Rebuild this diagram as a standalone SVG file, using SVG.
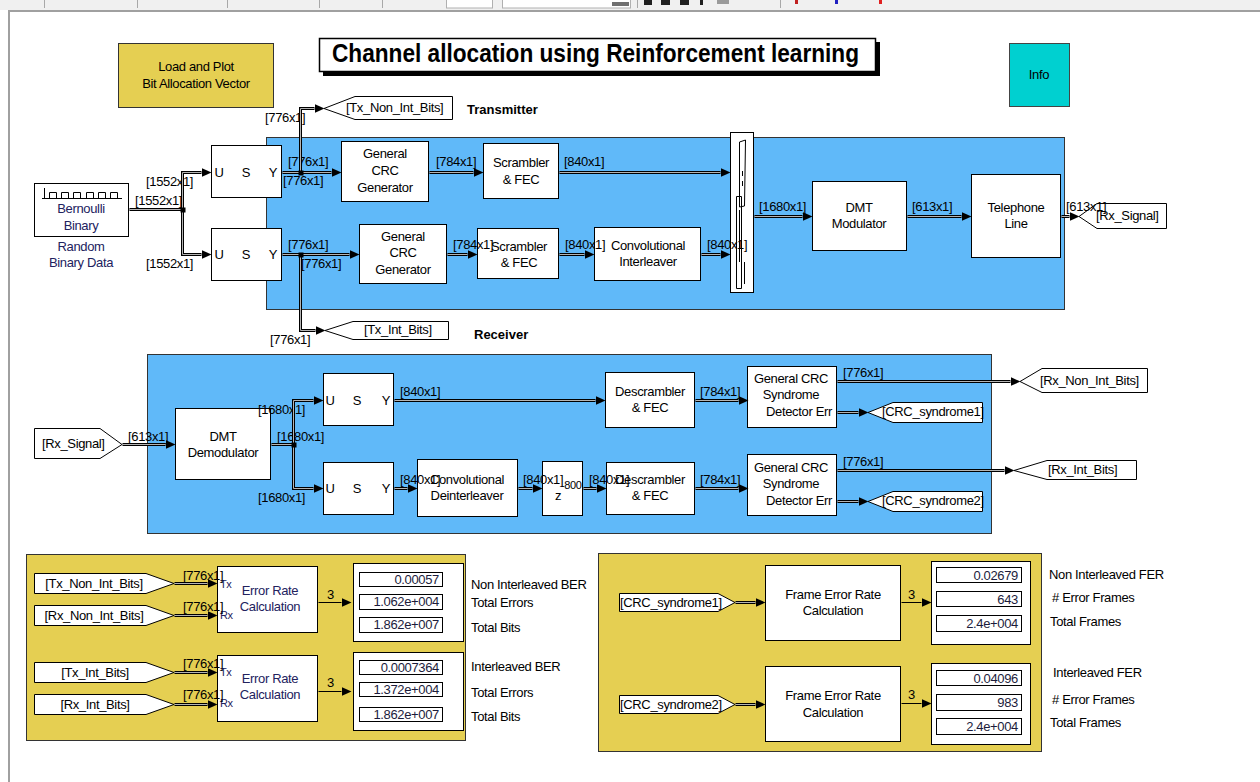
<svg xmlns="http://www.w3.org/2000/svg" xmlns:xlink="http://www.w3.org/1999/xlink" width="1260" height="782" viewBox="0 0 1260 782">
<style>
  text { font-family: "Liberation Sans", Arial, sans-serif; font-size: 13px; letter-spacing: -0.35px; fill: #000; }
  .c { text-anchor: middle; }
  .r { text-anchor: end; }
  .nv { fill: #22225e; }
  .dk { fill: #1c1c3c; }
  .b { font-weight: bold; letter-spacing: 0; }
  .sm { font-size: 11px; }
  .blk { fill: #fff; stroke: #000; stroke-width: 1; }
  .fld { fill: #fff; stroke: #000; stroke-width: 1; }
  .tag { fill: #fff; stroke: #000; stroke-width: 1; }
  .w { fill: none; stroke: #000; stroke-width: 3; marker-end: url(#ah); }
  .wc { fill: none; stroke: #b4b4b4; stroke-width: 1; marker-end: none; }
  .s { fill: none; stroke: #000; stroke-width: 1; marker-end: url(#ah); }
  .blue { fill: #60b9f9; stroke: #333; stroke-width: 1; }
  .yel { fill: #e5cf52; stroke: #333; stroke-width: 1; }
</style>
<defs>
  <marker id="ah" viewBox="0 -5 10 10" refX="0" refY="0" markerWidth="10" markerHeight="10" markerUnits="userSpaceOnUse" orient="auto">
    <path d="M0,-4.5 L10,0 L0,4.5 Z" fill="#000"/>
  </marker>
  <!-- transmitter wires -->
  <path id="t1" d="M129,209 H182 V172 H201"/>
  <path id="t2" d="M182,209 V254 H201"/>
  <path id="t3" d="M282,172 H331"/>
  <path id="t4" d="M300,172 V108 H314"/>
  <path id="t5" d="M429,172 H473"/>
  <path id="t6" d="M559,172 H720"/>
  <path id="t7" d="M282,254 H349"/>
  <path id="t8" d="M300,254 V330 H315"/>
  <path id="t9" d="M447,254 H467"/>
  <path id="t10" d="M559,254 H584"/>
  <path id="t11" d="M701,254 H720"/>
  <path id="t12" d="M754,216 H802"/>
  <path id="t13" d="M907,216 H961"/>
  <path id="t14" d="M1061,216 H1069"/>
  <!-- receiver wires -->
  <path id="r1" d="M122,444 H165"/>
  <path id="r2" d="M271,444 H293 V400 H313"/>
  <path id="r3" d="M293,444 V488 H313"/>
  <path id="r4" d="M394,400 H595"/>
  <path id="r5" d="M695,400 H738"/>
  <path id="r6" d="M837,381 H1010"/>
  <path id="r7" d="M837,412 H858"/>
  <path id="r8" d="M394,488 H407"/>
  <path id="r9" d="M518,488 H532"/>
  <path id="r10" d="M583,488 H596"/>
  <path id="r11" d="M695,488 H738"/>
  <path id="r12" d="M837,470 H1004"/>
  <path id="r13" d="M837,501 H858"/>
  <!-- measurement wires -->
  <path id="m1" d="M174,583 H207"/>
  <path id="m2" d="M174,615 H207"/>
  <path id="m3" d="M174,672 H207"/>
  <path id="m4" d="M174,704 H207"/>
  <path id="m5" d="M735,602 H755"/>
  <path id="m6" d="M735,704 H755"/>
</defs>

<!-- window chrome -->
<g id="toolbar">
  <rect x="0" y="0" width="1260" height="10" fill="#f0f0f0"/>
  <g stroke="#a8a8a8" stroke-width="1">
    <line x1="44.5" y1="0" x2="44.5" y2="8"/>
    <line x1="137.5" y1="0" x2="137.5" y2="8"/>
    <line x1="227.5" y1="0" x2="227.5" y2="8"/>
    <line x1="319.5" y1="0" x2="319.5" y2="8"/>
    <line x1="382.5" y1="0" x2="382.5" y2="8"/>
    <line x1="637.5" y1="0" x2="637.5" y2="8"/>
    <line x1="780.5" y1="0" x2="780.5" y2="8"/>
  </g>
  <rect x="446.5" y="-1" width="46" height="9" fill="#fff" stroke="#b0b0b0"/>
  <rect x="502.5" y="-1" width="128" height="9" fill="#fff" stroke="#b0b0b0"/>
  <rect x="612" y="2" width="17" height="4" fill="#707070"/>
  <rect x="644" y="0" width="8" height="5" fill="#202020"/>
  <rect x="661" y="0" width="9" height="5" fill="#202020"/>
  <rect x="680" y="0" width="9" height="5" fill="#202020"/>
  <rect x="700" y="0" width="3" height="5" fill="#202020"/>
  <rect x="717" y="0" width="12" height="4" fill="#9a9a9a"/>
  <rect x="795" y="0" width="3" height="4" fill="#c02020"/>
  <rect x="835" y="0" width="3" height="4" fill="#2020c0"/>
  <rect x="879" y="0" width="3" height="4" fill="#e02020"/>
  <path d="M9,782 V11 H1260" fill="none" stroke="#a0a0a0" stroke-width="2"/>
</g>

<!-- subsystem backgrounds -->
<g id="panels">
  <rect id="tx-area" class="blue" x="266.5" y="137.5" width="798" height="172"/>
  <rect id="rx-area" class="blue" x="147.5" y="354.5" width="844" height="179"/>
  <rect id="ber-area" class="yel" x="26.5" y="554.5" width="439" height="186"/>
  <rect id="fer-area" class="yel" x="598.5" y="553.5" width="443" height="198"/>
</g>

<!-- title and annotation blocks -->
<g id="title">
  <rect x="323" y="42" width="557" height="34" fill="#000"/>
  <rect x="319.5" y="38.5" width="556" height="33" fill="#fff" stroke="#000" stroke-width="1.5"/>
  <text class="b" x="332" y="62" textLength="527" lengthAdjust="spacingAndGlyphs" style="font-size:25px">Channel allocation using Reinforcement learning</text>
</g>
<g id="load-plot">
  <rect class="yel" x="118.5" y="43.5" width="155" height="64"/>
  <text class="c" x="196" y="71">Load and Plot</text>
  <text class="c" x="196" y="88">Bit Allocation Vector</text>
</g>
<g id="info">
  <rect x="1009.5" y="43.5" width="60" height="63" fill="#00d0d0" stroke="#444"/>
  <text class="c" x="1039" y="79">Info</text>
</g>
<text class="b" x="467" y="114">Transmitter</text>
<text class="b" x="474" y="339">Receiver</text>

<!-- transmitter blocks -->
<g id="bernoulli">
  <rect class="blk" x="34.5" y="183.5" width="94" height="53"/>
  <path d="M44.5,188 V199 M42,198.5 H122 M45,198.5 H49.5 V192.5 H56.5 V198.5 H61.5 V192.5 H68.5 V198.5 H73.5 V192.5 H80.5 V198.5 H86.5 V192.5 H93.5 V198.5 H98.5 V192.5 H105.5 V198.5 H110.5 V192.5 H117.5 V198.5" fill="none" stroke="#000" stroke-width="1"/>
  <text class="c nv" x="81" y="213">Bernoulli</text>
  <text class="c nv" x="81" y="230">Binary</text>
  <text class="c nv" x="81" y="251">Random</text>
  <text class="c nv" x="81" y="267">Binary Data</text>
</g>
<g id="tx-unbuffer-1">
  <rect class="blk" x="211.5" y="145.5" width="70" height="52"/>
  <text class="c" x="219" y="177">U</text><text class="c" x="246" y="177">S</text><text class="c" x="273" y="177">Y</text>
</g>
<g id="tx-unbuffer-2">
  <rect class="blk" x="211.5" y="228.5" width="70" height="52"/>
  <text class="c" x="219" y="259">U</text><text class="c" x="246" y="259">S</text><text class="c" x="273" y="259">Y</text>
</g>
<g id="tx-crc-1">
  <rect class="blk" x="341.5" y="141.5" width="87" height="60"/>
  <text class="c" x="385" y="158">General</text>
  <text class="c" x="385" y="175">CRC</text>
  <text class="c" x="385" y="192">Generator</text>
</g>
<g id="tx-scrambler-1">
  <rect class="blk" x="483.5" y="143.5" width="75" height="55"/>
  <text class="c" x="521" y="167">Scrambler</text>
  <text class="c" x="521" y="184">&amp; FEC</text>
</g>
<g id="tx-crc-2">
  <rect class="blk" x="359.5" y="224.5" width="87" height="59"/>
  <text class="c" x="403" y="241">General</text>
  <text class="c" x="403" y="257">CRC</text>
  <text class="c" x="403" y="274">Generator</text>
</g>
<g id="tx-scrambler-2">
  <rect class="blk" x="477.5" y="228.5" width="81" height="50"/>
  <text class="c" x="519" y="251">Scrambler</text>
  <text class="c" x="519" y="267">&amp; FEC</text>
</g>
<g id="tx-interleaver">
  <rect class="blk" x="594.5" y="227.5" width="106" height="53"/>
  <text class="c" x="648" y="250">Convolutional</text>
  <text class="c" x="648" y="266">Interleaver</text>
</g>
<g id="tx-mux">
  <rect class="blk" x="730.5" y="132.5" width="23" height="160"/>
  <path d="M739.5,142 L745.5,140 L744.5,206 L739.5,207 Z M736.5,196.5 H741.5 V288.5 H736.5 Z M739.5,210 V262 M742.5,171 V176 M742.5,181 V186 M744.5,262 V284" fill="none" stroke="#000" stroke-width="1"/>
</g>
<g id="dmt-mod">
  <rect class="blk" x="812.5" y="181.5" width="94" height="69"/>
  <text class="c" x="859" y="212">DMT</text>
  <text class="c" x="859" y="228">Modulator</text>
</g>
<g id="telephone-line">
  <rect class="blk" x="971.5" y="174.5" width="89" height="83"/>
  <text class="c" x="1016" y="212">Telephone</text>
  <text class="c" x="1016" y="228">Line</text>
</g>
<g id="goto-tx-non-int">
  <polygon class="tag" points="324,108.5 355,96.5 452.5,96.5 452.5,119.5 355,119.5"/>
  <text x="346" y="112">[Tx_Non_Int_Bits]</text>
</g>
<g id="goto-tx-int">
  <polygon class="tag" points="325,330.5 353,321.5 448.5,321.5 448.5,339.5 353,339.5"/>
  <text x="364" y="334">[Tx_Int_Bits]</text>
</g>
<g id="goto-rx-signal">
  <polygon class="tag" points="1079,216.5 1097,203.5 1166.5,203.5 1166.5,228.5 1097,228.5"/>
  <text x="1096" y="220">[Rx_Signal]</text>
</g>

<!-- receiver blocks -->
<g id="from-rx-signal">
  <polygon class="tag" points="34.5,428.5 100,428.5 122,444.5 100,458.5 34.5,458.5"/>
  <text x="42" y="448">[Rx_Signal]</text>
</g>
<g id="dmt-demod">
  <rect class="blk" x="175.5" y="408.5" width="95" height="71"/>
  <text class="c" x="223" y="441">DMT</text>
  <text class="c" x="223" y="457">Demodulator</text>
</g>
<g id="rx-unbuffer-1">
  <rect class="blk" x="323.5" y="373.5" width="70" height="52"/>
  <text class="c" x="330" y="405">U</text><text class="c" x="357" y="405">S</text><text class="c" x="386" y="405">Y</text>
</g>
<g id="rx-unbuffer-2">
  <rect class="blk" x="323.5" y="462.5" width="70" height="52"/>
  <text class="c" x="330" y="493">U</text><text class="c" x="357" y="493">S</text><text class="c" x="386" y="493">Y</text>
</g>
<g id="rx-descrambler-1">
  <rect class="blk" x="605.5" y="372.5" width="89" height="55"/>
  <text class="c" x="650" y="396">Descrambler</text>
  <text class="c" x="650" y="412">&amp; FEC</text>
</g>
<g id="rx-crc-1">
  <rect class="blk" x="747.5" y="366.5" width="89" height="61"/>
  <text class="c" x="791" y="383">General CRC</text>
  <text class="c" x="791" y="399">Syndrome</text>
  <text class="c" x="799" y="416">Detector Err</text>
</g>
<g id="rx-deinterleaver">
  <rect class="blk" x="417.5" y="459.5" width="100" height="57"/>
  <text class="c" x="467" y="484">Convolutional</text>
  <text class="c" x="467" y="500">Deinterleaver</text>
</g>
<g id="rx-delay">
  <rect class="blk" x="542.5" y="461.5" width="40" height="54"/>
  <text x="555" y="500">z</text>
  <text class="sm" x="561" y="489">-800</text>
</g>
<g id="rx-descrambler-2">
  <rect class="blk" x="606.5" y="462.5" width="88" height="52"/>
  <text class="c" x="650" y="484">Descrambler</text>
  <text class="c" x="650" y="500">&amp; FEC</text>
</g>
<g id="rx-crc-2">
  <rect class="blk" x="747.5" y="454.5" width="89" height="61"/>
  <text class="c" x="791" y="472">General CRC</text>
  <text class="c" x="791" y="488">Syndrome</text>
  <text class="c" x="799" y="505">Detector Err</text>
</g>
<g id="goto-rx-non-int">
  <polygon class="tag" points="1020,381.5 1042,368.5 1147.5,368.5 1147.5,392.5 1042,392.5"/>
  <text x="1040" y="385">[Rx_Non_Int_Bits]</text>
</g>
<g id="goto-crc1">
  <polygon class="tag" points="868,412.5 893,402.5 982.5,402.5 982.5,422.5 893,422.5"/>
  <text x="882" y="416">[CRC_syndrome1]</text>
</g>
<g id="goto-rx-int">
  <polygon class="tag" points="1014,470.5 1047,460.5 1136.5,460.5 1136.5,479.5 1047,479.5"/>
  <text x="1048" y="474">[Rx_Int_Bits]</text>
</g>
<g id="goto-crc2">
  <polygon class="tag" points="868,501.5 893,491.5 982.5,491.5 982.5,511.5 893,511.5"/>
  <text x="882" y="505">[CRC_syndrome2]</text>
</g>

<!-- bit error rate measurement -->
<g id="from-tx-non-int">
  <polygon class="tag" points="34.5,573.5 146,573.5 174,583.5 146,593.5 34.5,593.5"/>
  <text class="c" x="94" y="588">[Tx_Non_Int_Bits]</text>
</g>
<g id="from-rx-non-int">
  <polygon class="tag" points="34.5,605.5 146,605.5 174,615.5 146,625.5 34.5,625.5"/>
  <text class="c" x="94" y="620">[Rx_Non_Int_Bits]</text>
</g>
<g id="ber-calc-1">
  <rect class="blk" x="217.5" y="566.5" width="100" height="66"/>
  <text class="sm nv" x="220" y="588">Tx</text>
  <text class="sm nv" x="220" y="619">Rx</text>
  <text class="c nv" x="270" y="595">Error Rate</text>
  <text class="c nv" x="270" y="611">Calculation</text>
</g>
<g id="ber-display-1">
  <rect class="blk" x="353.5" y="563.5" width="110" height="78"/>
  <rect class="fld" x="359.5" y="572.5" width="83" height="14"/>
  <rect class="fld" x="359.5" y="594.5" width="83" height="15"/>
  <rect class="fld" x="359.5" y="617.5" width="83" height="15"/>
  <text class="r dk" x="439" y="584">0.00057</text>
  <text class="r dk" x="439" y="606">1.062e+004</text>
  <text class="r dk" x="439" y="629">1.862e+007</text>
</g>
<text x="471" y="589">Non Interleaved BER</text>
<text x="471" y="607">Total Errors</text>
<text x="471" y="632">Total Bits</text>
<g id="from-tx-int">
  <polygon class="tag" points="34.5,662.5 146,662.5 174,672.5 146,682.5 34.5,682.5"/>
  <text class="c" x="95" y="677">[Tx_Int_Bits]</text>
</g>
<g id="from-rx-int">
  <polygon class="tag" points="34.5,694.5 146,694.5 174,704.5 146,714.5 34.5,714.5"/>
  <text class="c" x="95" y="709">[Rx_Int_Bits]</text>
</g>
<g id="ber-calc-2">
  <rect class="blk" x="217.5" y="655.5" width="100" height="66"/>
  <text class="sm nv" x="220" y="676">Tx</text>
  <text class="sm nv" x="220" y="707">Rx</text>
  <text class="c nv" x="270" y="683">Error Rate</text>
  <text class="c nv" x="270" y="699">Calculation</text>
</g>
<g id="ber-display-2">
  <rect class="blk" x="353.5" y="652.5" width="110" height="78"/>
  <rect class="fld" x="359.5" y="660.5" width="83" height="14"/>
  <rect class="fld" x="359.5" y="682.5" width="83" height="14"/>
  <rect class="fld" x="359.5" y="707.5" width="83" height="14"/>
  <text class="r dk" x="439" y="672">0.0007364</text>
  <text class="r dk" x="439" y="694">1.372e+004</text>
  <text class="r dk" x="439" y="719">1.862e+007</text>
</g>
<text x="471" y="671">Interleaved BER</text>
<text x="471" y="697">Total Errors</text>
<text x="471" y="721">Total Bits</text>

<!-- frame error rate measurement -->
<g id="from-crc1">
  <polygon class="tag" points="619.5,593.5 718,593.5 735,602.5 718,611.5 619.5,611.5"/>
  <text x="620" y="607">[CRC_syndrome1]</text>
</g>
<g id="fer-calc-1">
  <rect class="blk" x="765.5" y="565.5" width="135" height="75"/>
  <text class="c" x="833" y="599">Frame Error Rate</text>
  <text class="c" x="833" y="615">Calculation</text>
</g>
<g id="fer-display-1">
  <rect class="blk" x="931.5" y="561.5" width="99" height="83"/>
  <rect class="fld" x="936.5" y="567.5" width="85" height="15"/>
  <rect class="fld" x="936.5" y="591.5" width="85" height="15"/>
  <rect class="fld" x="936.5" y="615.5" width="85" height="16"/>
  <text class="r dk" x="1018" y="580">0.02679</text>
  <text class="r dk" x="1018" y="604">643</text>
  <text class="r dk" x="1018" y="628">2.4e+004</text>
</g>
<text x="1049" y="579">Non Interleaved FER</text>
<text x="1052" y="602"># Error Frames</text>
<text x="1050" y="626">Total Frames</text>
<g id="from-crc2">
  <polygon class="tag" points="619.5,695.5 718,695.5 735,704.5 718,713.5 619.5,713.5"/>
  <text x="620" y="709">[CRC_syndrome2]</text>
</g>
<g id="fer-calc-2">
  <rect class="blk" x="765.5" y="666.5" width="135" height="75"/>
  <text class="c" x="833" y="700">Frame Error Rate</text>
  <text class="c" x="833" y="717">Calculation</text>
</g>
<g id="fer-display-2">
  <rect class="blk" x="931.5" y="663.5" width="99" height="81"/>
  <rect class="fld" x="936.5" y="670.5" width="85" height="15"/>
  <rect class="fld" x="936.5" y="694.5" width="85" height="16"/>
  <rect class="fld" x="936.5" y="718.5" width="85" height="16"/>
  <text class="r dk" x="1018" y="683">0.04096</text>
  <text class="r dk" x="1018" y="707">983</text>
  <text class="r dk" x="1018" y="731">2.4e+004</text>
</g>
<text x="1053" y="677">Interleaved FER</text>
<text x="1052" y="704"># Error Frames</text>
<text x="1050" y="727">Total Frames</text>

<!-- signal dimension labels, printed over the block faces -->
<g id="dims">
  <text x="135" y="205">[1552x1]</text>
  <text x="146" y="186">[1552x1]</text>
  <text x="146" y="268">[1552x1]</text>
  <text x="265" y="122">[776x1]</text>
  <text x="288" y="166">[776x1]</text>
  <text x="283" y="185">[776x1]</text>
  <text x="436" y="166">[784x1]</text>
  <text x="564" y="166">[840x1]</text>
  <text x="288" y="249">[776x1]</text>
  <text x="301" y="268">[776x1]</text>
  <text x="453" y="249">[784x1]</text>
  <text x="565" y="249">[840x1]</text>
  <text x="707" y="249">[840x1]</text>
  <text x="270" y="344">[776x1]</text>
  <text x="759" y="211">[1680x1]</text>
  <text x="912" y="211">[613x1]</text>
  <text x="1066" y="211">[613x1]</text>
  <text x="128" y="441">[613x1]</text>
  <text x="277" y="441">[1680x1]</text>
  <text x="258" y="414">[1680x1]</text>
  <text x="258" y="502">[1680x1]</text>
  <text x="400" y="396">[840x1]</text>
  <text x="700" y="396">[784x1]</text>
  <text x="843" y="377">[776x1]</text>
  <text x="400" y="484">[840x1]</text>
  <text x="523" y="484">[840x1]</text>
  <text x="589" y="484">[840x1]</text>
  <text x="700" y="484">[784x1]</text>
  <text x="843" y="466">[776x1]</text>
  <text x="183" y="580">[776x1]</text>
  <text x="183" y="611">[776x1]</text>
  <text x="183" y="668">[776x1]</text>
  <text x="183" y="699">[776x1]</text>
  <text x="327" y="599">3</text>
  <text x="327" y="687">3</text>
  <text x="908" y="599">3</text>
  <text x="908" y="699">3</text>
</g>

<!-- connectors: wide signal lines drawn as black outline with a light core -->
<g id="connectors" transform="translate(0.5,0.5)">
  <g class="w">
    <use href="#t1"/><use href="#t2"/><use href="#t3"/><use href="#t4"/><use href="#t5"/><use href="#t6"/><use href="#t7"/>
    <use href="#t8"/><use href="#t9"/><use href="#t10"/><use href="#t11"/><use href="#t12"/><use href="#t13"/><use href="#t14"/>
    <use href="#r1"/><use href="#r2"/><use href="#r3"/><use href="#r4"/><use href="#r5"/><use href="#r6"/><use href="#r7"/>
    <use href="#r8"/><use href="#r9"/><use href="#r10"/><use href="#r11"/><use href="#r12"/><use href="#r13"/>
    <use href="#m1"/><use href="#m2"/><use href="#m3"/><use href="#m4"/><use href="#m5"/><use href="#m6"/>
  </g>
  <g class="wc">
    <use href="#t1"/><use href="#t2"/><use href="#t3"/><use href="#t4"/><use href="#t5"/><use href="#t6"/><use href="#t7"/>
    <use href="#t8"/><use href="#t9"/><use href="#t10"/><use href="#t11"/><use href="#t12"/><use href="#t13"/><use href="#t14"/>
    <use href="#r1"/><use href="#r2"/><use href="#r3"/><use href="#r4"/><use href="#r5"/><use href="#r6"/><use href="#r7"/>
    <use href="#r8"/><use href="#r9"/><use href="#r10"/><use href="#r11"/><use href="#r12"/><use href="#r13"/>
    <use href="#m1"/><use href="#m2"/><use href="#m3"/><use href="#m4"/><use href="#m5"/><use href="#m6"/>
  </g>
  <g class="s">
    <path d="M318,602 H341"/>
    <path d="M318,691 H341"/>
    <path d="M901,602 H921"/>
    <path d="M901,703 H921"/>
  </g>
  <g fill="#000">
    <rect x="180" y="207" width="5" height="5"/>
    <rect x="298" y="170" width="5" height="5"/>
    <rect x="298" y="252" width="5" height="5"/>
    <rect x="291" y="442" width="5" height="5"/>
  </g>
</g>
</svg>
